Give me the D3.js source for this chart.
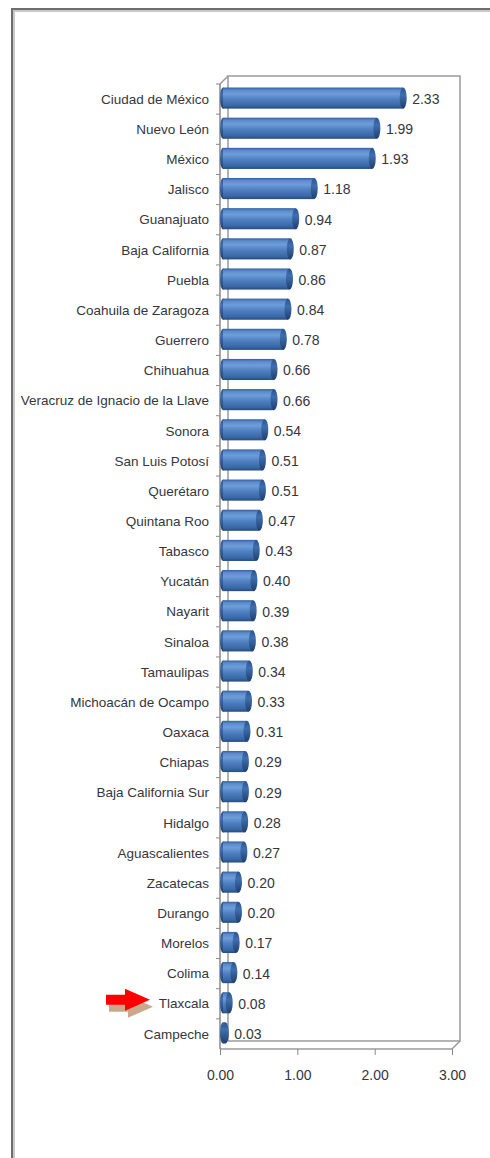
<!DOCTYPE html>
<html>
<head>
<meta charset="utf-8">
<script src="https://cdn.jsdelivr.net/npm/d3@7"></script>
<style>
  body { margin: 0; background: #fff; }
  svg { display: block; font-family: Arial, "Liberation Sans", sans-serif; }
</style>
</head>
<body>
<svg id="chart" width="490" height="1158"></svg>
<script>
// data
const estados = [
  'Ciudad de México', 'Nuevo León', 'México', 'Jalisco', 'Guanajuato',
  'Baja California', 'Puebla', 'Coahuila de Zaragoza', 'Guerrero', 'Chihuahua',
  'Veracruz de Ignacio de la Llave', 'Sonora', 'San Luis Potosí', 'Querétaro',
  'Quintana Roo', 'Tabasco', 'Yucatán', 'Nayarit', 'Sinaloa', 'Tamaulipas',
  'Michoacán de Ocampo', 'Oaxaca', 'Chiapas', 'Baja California Sur', 'Hidalgo',
  'Aguascalientes', 'Zacatecas', 'Durango', 'Morelos', 'Colima', 'Tlaxcala', 'Campeche'
];
const valores = [
  2.33, 1.99, 1.93, 1.18, 0.94, 0.87, 0.86, 0.84, 0.78, 0.66,
  0.66, 0.54, 0.51, 0.51, 0.47, 0.43, 0.40, 0.39, 0.38, 0.34,
  0.33, 0.31, 0.29, 0.29, 0.28, 0.27, 0.20, 0.20, 0.17, 0.14, 0.08, 0.03
];
const xTicks = [0, 1, 2, 3];
const marcado = 'Tlaxcala';

const svg = d3.select('#chart');
const depth = 8; // 3d offset of back wall
const txt = '#363640';

const x = d3.scaleLinear().domain([0, 3]).range([220, 452]);
const y = d3.scaleBand().domain(estados).range([84, 1049]).paddingInner(0.3).paddingOuter(0.15);

// outer frame
svg.append('rect').attr('x', 13).attr('y', 10).attr('width', 520).attr('height', 1200)
  .attr('fill', 'none').attr('stroke', '#c8c8c8').attr('stroke-width', 4);
svg.append('rect').attr('x', 12).attr('y', 9).attr('width', 520).attr('height', 1200)
  .attr('fill', 'none').attr('stroke', '#6e6e6e').attr('stroke-width', 2);

const defs = svg.append('defs');
const grad = defs.append('linearGradient').attr('id', 'barGrad')
  .attr('x1', 0).attr('y1', 0).attr('x2', 0).attr('y2', 1);
[[0, '#2f5f9e'], [0.12, '#5b8bcb'], [0.3, '#6e9dda'], [0.55, '#4f80c0'], [0.85, '#3a68a6'], [1, '#264c80']]
  .forEach(s => grad.append('stop').attr('offset', s[0]).attr('stop-color', s[1]));
const capGrad = defs.append('linearGradient').attr('id', 'capGrad')
  .attr('x1', 0).attr('y1', 0).attr('x2', 0).attr('y2', 1);
[[0, '#2a5390'], [0.35, '#3f6fae'], [1, '#1f3f6e']]
  .forEach(s => capGrad.append('stop').attr('offset', s[0]).attr('stop-color', s[1]));

// 3d box: back wall, floor, left wall
const yTop = y.range()[0], yBottom = y.range()[1];
const box = svg.append('g').attr('fill', 'none').attr('stroke', '#9a9a9a').attr('stroke-width', 1.5);
box.append('rect').attr('x', x(0) + depth).attr('y', yTop - depth)
  .attr('width', x(3) - x(0)).attr('height', yBottom - yTop);
box.append('path').attr('d',
  `M${x(0)},${yTop}L${x(0) + depth},${yTop - depth}` +
  `M${x(0)},${yBottom}L${x(3)},${yBottom}L${x(3) + depth},${yBottom - depth}`);
box.append('line').attr('x1', x(0)).attr('x2', x(0)).attr('y1', yTop).attr('y2', yBottom)
  .attr('stroke', '#888');

// category tick marks
svg.append('g').selectAll('line').data(estados).join('line')
  .attr('x1', x(0) - 4).attr('x2', x(0))
  .attr('y1', d => y(d) - y.step() * y.paddingInner() / 2)
  .attr('y2', d => y(d) - y.step() * y.paddingInner() / 2)
  .attr('stroke', '#888');

// x axis
const xAxis = svg.append('g').attr('transform', `translate(0,${yBottom})`)
  .call(d3.axisBottom(x).tickValues(xTicks).tickFormat(d3.format('.2f')).tickSize(6));
xAxis.select('.domain').remove();
xAxis.selectAll('.tick line').attr('stroke', '#888');
xAxis.selectAll('.tick text').attr('dy', '1.6em')
  .attr('font-size', 14).attr('fill', txt).attr('font-family', 'Arial, "Liberation Sans", sans-serif');

// bars
const rows = estados.map((e, i) => ({ estado: e, valor: valores[i] }));
const bh = y.bandwidth();
const g = svg.append('g').selectAll('g').data(rows).join('g')
  .attr('transform', d => `translate(0,${y(d.estado) - 1})`);
g.append('ellipse').attr('cx', x(0) + 3).attr('cy', bh / 2).attr('rx', 3).attr('ry', bh / 2)
  .attr('fill', 'url(#capGrad)');
g.append('rect').attr('x', x(0) + 3).attr('y', 0)
  .attr('width', d => Math.max(0, x(d.valor) - x(0)))
  .attr('height', bh).attr('fill', 'url(#barGrad)');
g.append('ellipse').attr('cx', d => x(d.valor) + 3).attr('cy', bh / 2)
  .attr('rx', 3.5).attr('ry', bh / 2).attr('fill', 'url(#capGrad)');

// value labels
g.append('text').attr('x', d => x(d.valor) + 12).attr('y', bh / 2 + 1)
  .attr('dy', '0.35em').attr('font-size', 14).attr('fill', txt)
  .text(d => d3.format('.2f')(d.valor));

// category labels
svg.append('g').selectAll('text').data(estados).join('text')
  .attr('x', 209).attr('y', d => y(d) + bh / 2)
  .attr('dy', '0.35em').attr('text-anchor', 'end')
  .attr('font-size', 13.5).attr('fill', txt)
  .text(d => d);

// red arrow pointing at Tlaxcala
const ay = y(marcado) + bh / 2 - 4;
const arrow = (dx, dy) => `M${106 + dx},${ay - 5 + dy}L${125 + dx},${ay - 5 + dy}L${125 + dx},${ay - 11 + dy}` +
  `L${150 + dx},${ay + dy}L${125 + dx},${ay + 11 + dy}L${125 + dx},${ay + 5 + dy}L${106 + dx},${ay + 5 + dy}Z`;
svg.append('path').attr('d', arrow(3, 7)).attr('fill', '#c9a88c');
svg.append('path').attr('d', arrow(0, 0)).attr('fill', '#ff0000');
</script>
</body>
</html>
